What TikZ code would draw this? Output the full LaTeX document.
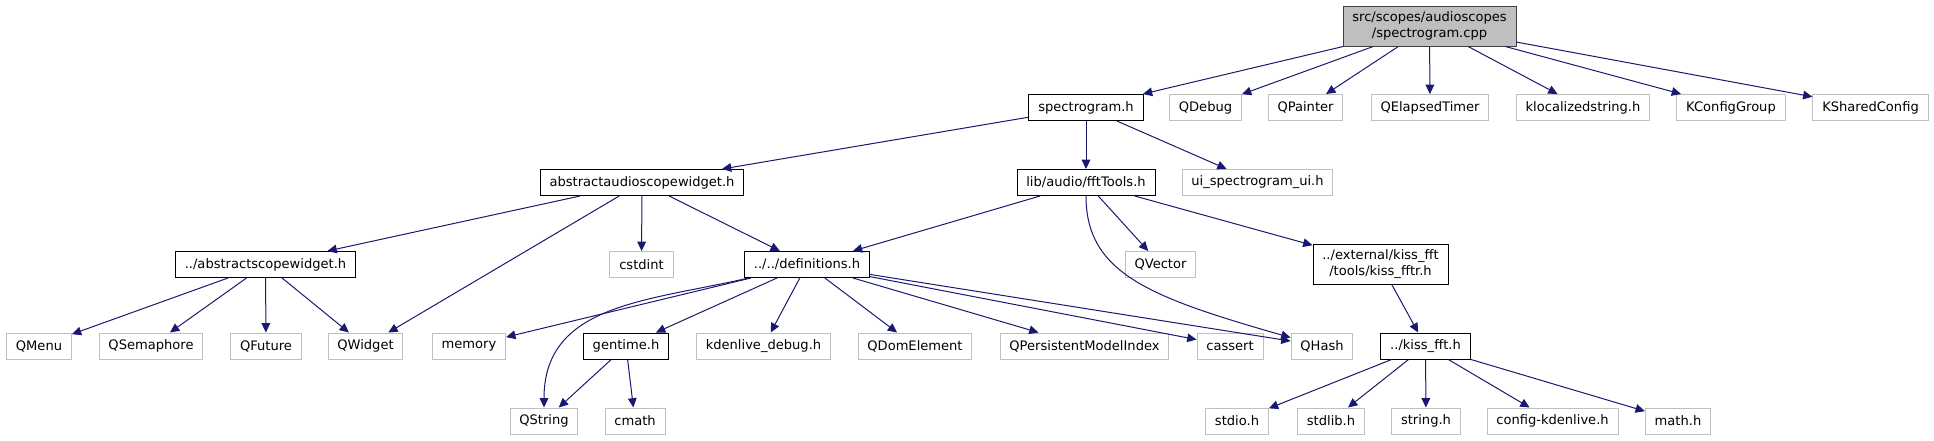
\documentclass[tikz,border=0pt]{standalone}
\usepackage{fontspec}
\setmainfont{DejaVu Sans}
\usetikzlibrary{arrows.meta}
\definecolor{inclblue}{RGB}{25,25,112}
\definecolor{boxgrey}{RGB}{191,191,191}
\definecolor{rootline}{RGB}{64,64,64}
\tikzset{
  hfile/.style={draw=black, fill=white, line width=0.75pt, minimum height=19.5pt,
                inner xsep=7pt, inner ysep=0pt, font=\fontsize{9.8}{12}\selectfont},
  sysfile/.style={hfile, draw=boxgrey},
  twoline/.style={align=center, minimum height=30pt},
  rootfile/.style={hfile, twoline, draw=rootline, fill=boxgrey},
  incl/.style={inclblue, line width=0.75pt, -{Triangle[length=7pt,width=6.5pt]}},
}

\begin{document}
\begin{tikzpicture}[x=0.75pt,y=-0.75pt]
  \useasboundingbox (0,0) rectangle (1934,440);
  % rang 0-1
  \node[rootfile] (root) at (1429.5,26) {src/scopes/audioscopes\\/spectrogram.cpp};
  \node[hfile]   (spech)     at (1086,107.5)   {spectrogram.h};
  \node[sysfile] (qdebug)    at (1205.5,107.5) {QDebug};
  \node[sysfile] (qpainter)  at (1305.5,107.5) {QPainter};
  \node[sysfile] (qtimer)    at (1430,107.5)   {QElapsedTimer};
  \node[sysfile] (klocal)    at (1583,107.5)   {klocalizedstring.h};
  \node[sysfile] (kcfggroup) at (1731,107.5)   {KConfigGroup};
  \node[sysfile] (kshared)   at (1870.5,107.5) {KSharedConfig};
  % rang 2-3
  \node[hfile]   (audiowidget) at (642,182.5)  {abstractaudioscopewidget.h};
  \node[hfile]   (ffttools)    at (1086,182.5) {lib/audio/fftTools.h};
  \node[sysfile] (uispec)      at (1257.5,182.5) {ui\_spectrogram\_ui.h};
  \node[hfile]   (scopewidget) at (265.5,264.5) {../abstractscopewidget.h};
  \node[sysfile] (cstdint)     at (641.5,264.5) {cstdint};
  \node[hfile]   (defs)        at (807,264.5)   {../../definitions.h};
  \node[sysfile] (qvector)     at (1160.5,264.5) {QVector};
  \node[hfile,twoline] (kissfftr) at (1380.5,264) {../external/kiss\_fft\\/tools/kiss\_fftr.h};
  % rang 4-5
  \node[sysfile] (qmenu)   at (39,346)     {QMenu};
  \node[sysfile] (qsema)   at (151,346)    {QSemaphore};
  \node[sysfile] (qfuture) at (266,346)    {QFuture};
  \node[sysfile] (qwidget) at (365.5,346)  {QWidget};
  \node[sysfile] (memory)  at (469,346)    {memory};
  \node[hfile]   (gentime) at (626,346)    {gentime.h};
  \node[sysfile] (kdebug)  at (763.5,346)  {kdenlive\_debug.h};
  \node[sysfile] (qdom)    at (915,346)    {QDomElement};
  \node[sysfile] (qpmi)    at (1084.5,346) {QPersistentModelIndex};
  \node[sysfile] (cassert) at (1230,346)   {cassert};
  \node[sysfile] (qhash)   at (1322,346)   {QHash};
  \node[hfile]   (kissfft) at (1425.5,346) {../kiss\_fft.h};
  \node[sysfile] (qstring) at (544,421)    {QString};
  \node[sysfile] (cmath)   at (635,421)    {cmath};
  \node[sysfile] (stdio)   at (1237,421)   {stdio.h};
  \node[sysfile] (stdlib)  at (1331,421)   {stdlib.h};
  \node[sysfile] (stringh) at (1426,421)   {string.h};
  \node[sysfile] (config)  at (1552.5,421) {config-kdenlive.h};
  \node[sysfile] (mathh)   at (1678,421)   {math.h};

  % includes
  \foreach \t in {spech,qdebug,qpainter,qtimer,klocal,kcfggroup,kshared}
    \draw[incl] (root) -- (\t);
  \foreach \t in {audiowidget,ffttools,uispec}
    \draw[incl] (spech) -- (\t);
  \foreach \t in {scopewidget,qwidget,cstdint,defs}
    \draw[incl] (audiowidget) -- (\t);
  \foreach \t in {defs,qvector,kissfftr}
    \draw[incl] (ffttools) -- (\t);
  \draw[incl] (ffttools.south) to[out=-90,in=164,out looseness=0.8,in looseness=1.5] (qhash.165);
  \foreach \t in {qmenu,qsema,qfuture,qwidget}
    \draw[incl] (scopewidget) -- (\t);
  \foreach \t in {memory,gentime,kdebug,qdom,qpmi,cassert,qhash}
    \draw[incl] (defs) -- (\t);
  \draw[incl] (defs) to[out=193,in=90,looseness=1.1] (qstring);
  \foreach \t in {qstring,cmath}
    \draw[incl] (gentime) -- (\t);
  \draw[incl] (kissfftr) -- (kissfft);
  \foreach \t in {stdio,stdlib,stringh,config,mathh}
    \draw[incl] (kissfft) -- (\t);
\end{tikzpicture}
\end{document}
